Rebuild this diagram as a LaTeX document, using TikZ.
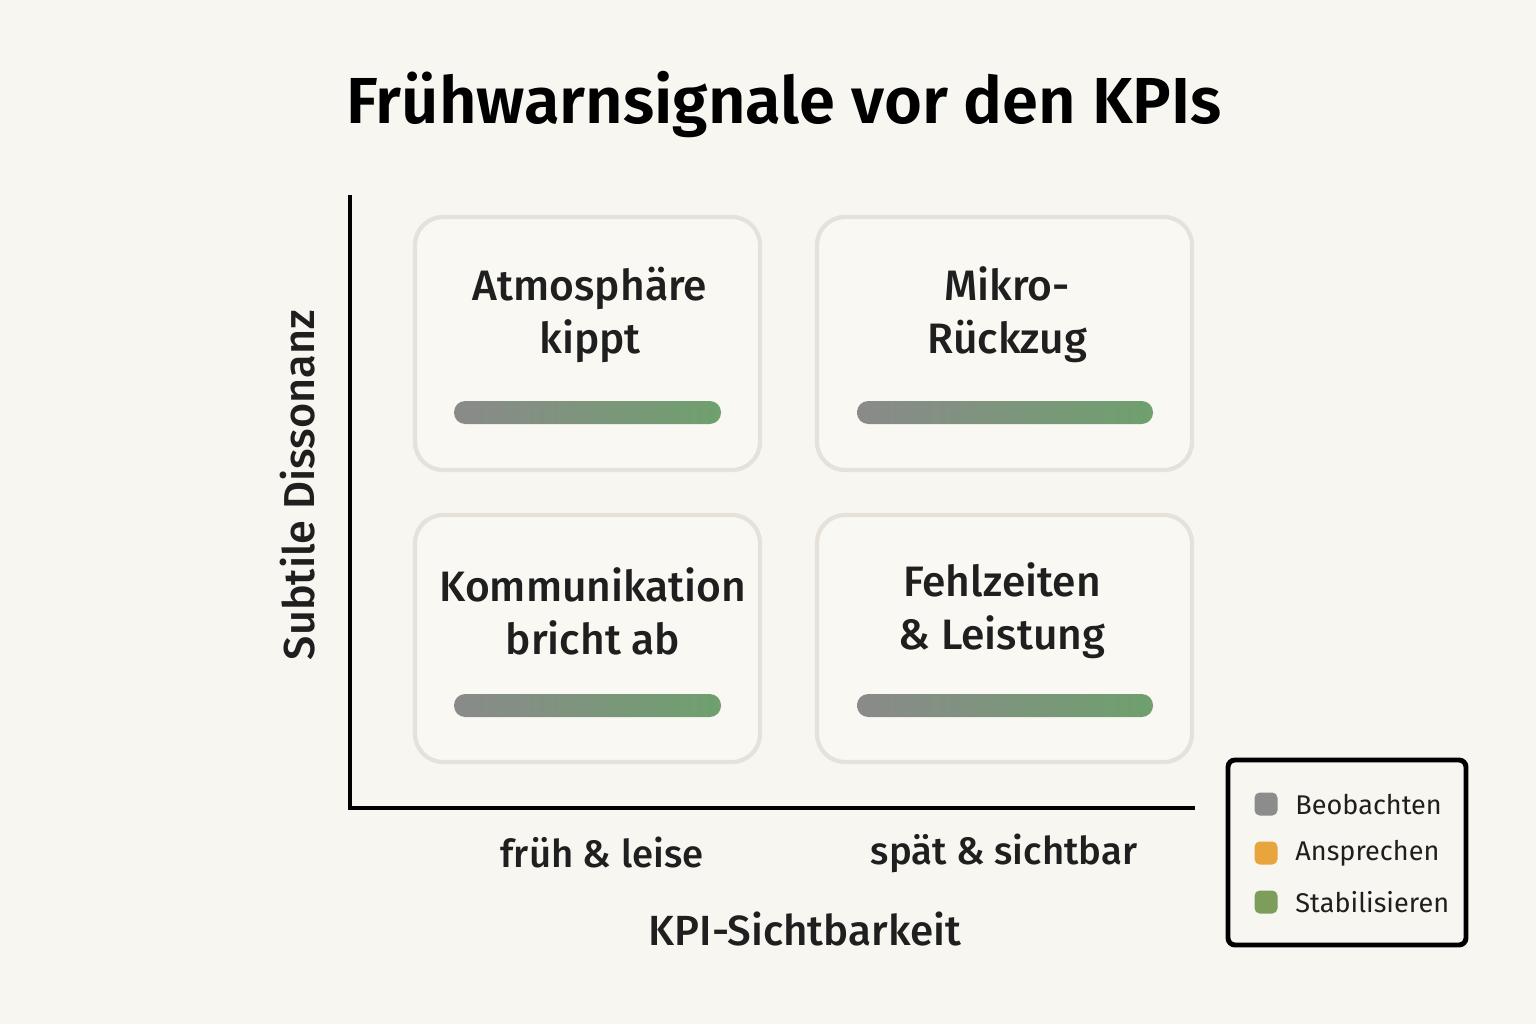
\documentclass[tikz,border=0pt]{standalone}
\usepackage{fontspec}
\setmainfont{Fira Sans}
\newfontfamily\semib{Fira Sans SemiBold}
\newfontfamily\medf{Fira Sans Medium}
\definecolor{bg}{HTML}{F8F6F0}
\definecolor{boxfill}{HTML}{FAF8F3}
\definecolor{boxline}{HTML}{E6E2DA}
\definecolor{barg}{HTML}{8A8A8A}
\definecolor{barn}{HTML}{6FA06E}
\definecolor{lgray}{HTML}{8C8C8C}
\definecolor{lorange}{HTML}{E8A53E}
\definecolor{lgreen}{HTML}{7C9E5A}
\tikzset{
 quad/.style={draw=boxline,line width=1.2pt,fill=boxfill,rounded corners=8pt},
 bar/.style={rounded corners=3.2pt,left color=barg,right color=barn},
 qtext/.style={font=\medf\fontsize{12.1}{15}\selectfont,align=center,text=black!88},
 axlab/.style={font=\medf\fontsize{10.9}{14}\selectfont,text=black!88},
 leg/.style={font=\fontsize{7.7}{10}\selectfont,anchor=west,text=black!88},
 lsq/.style={rounded corners=1.5pt,minimum size=0.23cm,inner sep=0pt}
}
\begin{document}
\begin{tikzpicture}[x=0.01cm,y=-0.01cm]
\fill[bg] (0,0) rectangle (1536,1024);
\useasboundingbox (0,0) rectangle (1536,1024);
\node[font=\semib\fontsize{18.5}{22}\selectfont] (title) at (784,105) {Frühwarnsignale vor den KPIs};
\coordinate (ytop) at (350,195);
\coordinate (orig) at (350,808);
\coordinate (xend) at (1195,808);
\draw[line width=1.4pt] (ytop) -- (orig) -- (xend);
\draw[quad] (415,217) rectangle (760,470);
\draw[quad] (817,217) rectangle (1192,470);
\draw[quad] (415,515) rectangle (760,762);
\draw[quad] (817,515) rectangle (1192,762);
\node[qtext] (q1) at (590,315) {Atmosphäre\\kippt};
\node[qtext] (q2) at (1007,315) {Mikro-\\Rückzug};
\node[qtext] (q3) at (593,611) {Kommunikation\\bricht ab};
\node[qtext] (q4) at (1002,611) {Fehlzeiten\\\& Leistung};
\shade[bar] (454,401) rectangle (721,424);
\shade[bar] (857,401) rectangle (1153,424);
\shade[bar] (454,694) rectangle (721,717);
\shade[bar] (857,694) rectangle (1153,717);
\node[axlab] (x1) at (602,853) {früh \& leise};
\node[axlab] (x2) at (1004,853) {spät \& sichtbar};
\node[axlab,font=\medf\fontsize{12}{14}\selectfont] (xl) at (805,929) {KPI-Sichtbarkeit};
\node[axlab,font=\medf\fontsize{12.3}{14}\selectfont,rotate=90] (yl) at (298,485) {Subtile Dissonanz};
\draw[line width=1.4pt,rounded corners=2pt,fill=bg] (1228,760) rectangle (1466,945);
\node[lsq,fill=lgray] (s1) at (1266,804) {};
\node[lsq,fill=lorange] (s2) at (1266,853) {};
\node[lsq,fill=lgreen] (s3) at (1266,902) {};
\node[leg] at (1283,804) {Beobachten};
\node[leg] at (1283,853) {Ansprechen};
\node[leg] at (1283,902) {Stabilisieren};
\end{tikzpicture}
\end{document}
